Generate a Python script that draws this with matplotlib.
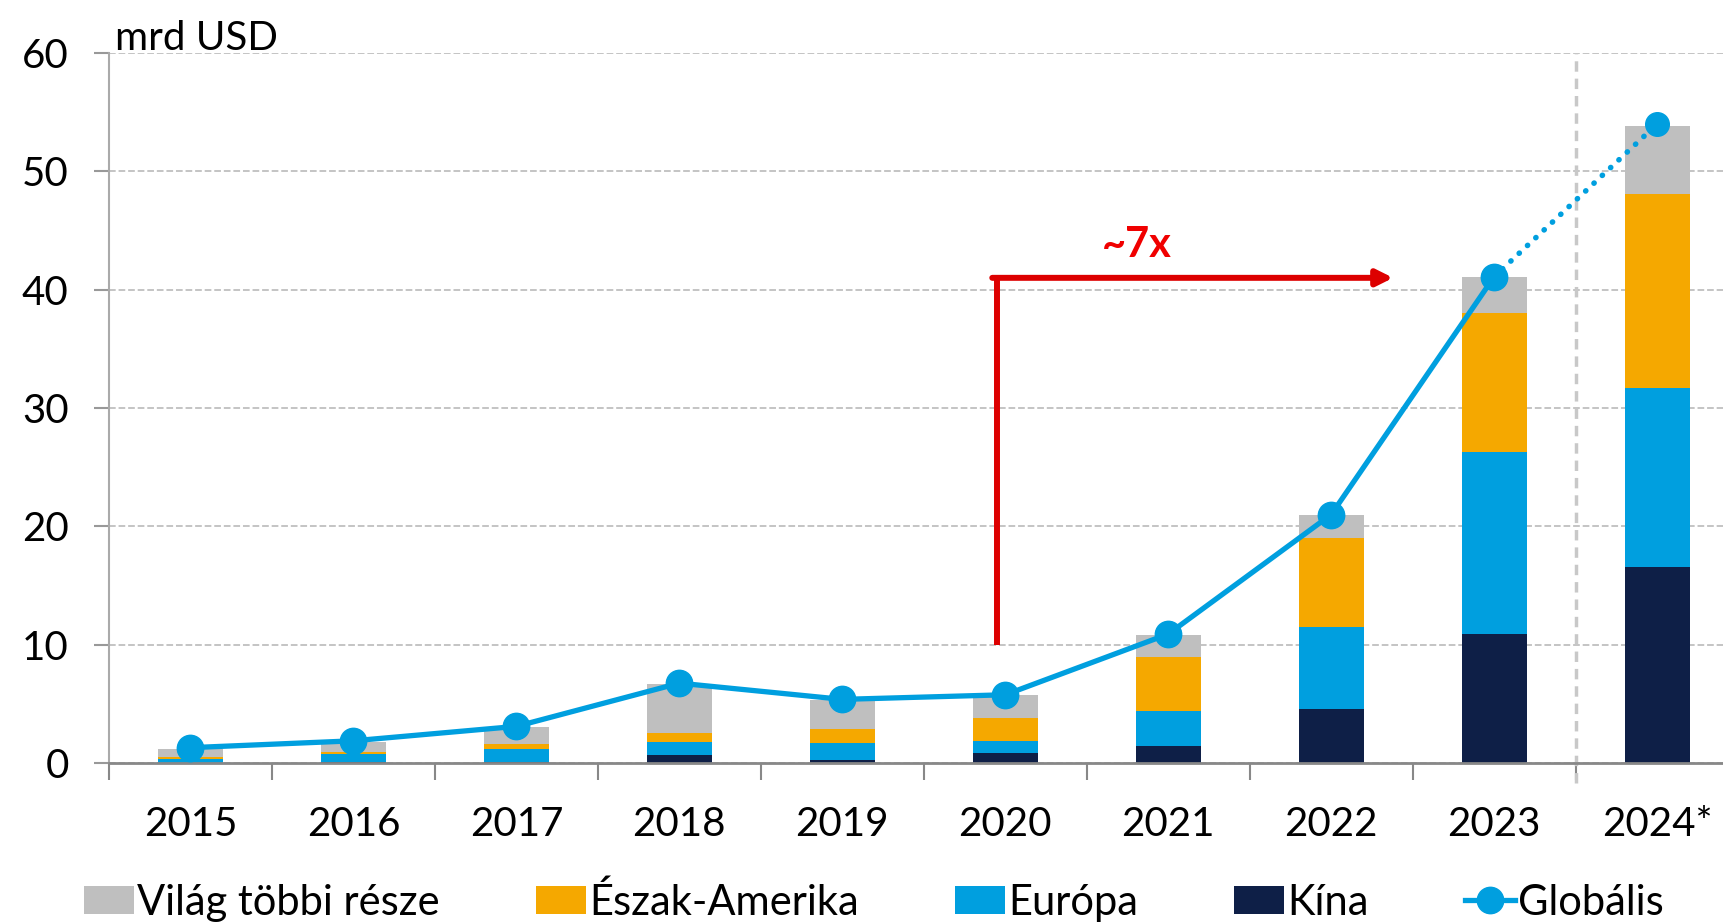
import matplotlib.pyplot as plt
import numpy as np

plt.rcParams['font.family'] = ['Lato', 'DejaVu Sans']

# adatok (mrd USD)
years = ['2015', '2016', '2017', '2018', '2019', '2020', '2021', '2022', '2023', '2024*']
kina = [0.0, 0.05, 0.1, 0.7, 0.25, 0.87, 1.4, 4.55, 10.9, 16.6]
europa = [0.34, 0.71, 1.08, 1.05, 1.41, 0.99, 3.0, 6.95, 15.4, 15.1]
eszak_amerika = [0.14, 0.2, 0.45, 0.76, 1.19, 1.97, 4.56, 7.5, 11.7, 16.4]
tobbi = [0.72, 0.79, 1.44, 4.19, 2.45, 1.92, 1.84, 2.0, 3.06, 5.75]
globalis = [1.3, 1.88, 3.1, 6.75, 5.38, 5.77, 10.9, 21.0, 41.1, 54.0]

c_gray = '#BFBFBF'
c_orange = '#F5A800'
c_blue = '#009FDF'
c_navy = '#0E1F47'
c_red = '#DD0000'

fig = plt.figure(figsize=(17.24, 9.23), dpi=100)
ax = fig.add_axes([0.0632, 0.1733, 0.9368, 0.7693])

x = np.arange(len(years))
w = 0.4
b1 = np.array(kina)
b2 = b1 + np.array(europa)
b3 = b2 + np.array(eszak_amerika)
ax.bar(x, kina, w, color=c_navy, zorder=2, label='Kína')
ax.bar(x, europa, w, bottom=b1, color=c_blue, zorder=2, label='Európa')
ax.bar(x, eszak_amerika, w, bottom=b2, color=c_orange, zorder=2, label='Észak-Amerika')
ax.bar(x, tobbi, w, bottom=b3, color=c_gray, zorder=2, label='Világ többi része')

# globális: tény vonal + becslés pontozva
ax.plot(x[:-1], globalis[:-1], color=c_blue, lw=3.8, marker='o', ms=19, zorder=4, label='Globális')
ax.plot(x[-2:], globalis[-2:], color=c_blue, lw=4, ls=(0, (0.05, 2.0)), dash_capstyle='round', zorder=4)
ax.plot(x[-1], globalis[-1], marker='o', ms=17, color=c_blue, zorder=5)

# ~7x nyíl
ax.plot([4.95, 4.95], [10, 41.0], color=c_red, lw=4.3, zorder=3, solid_capstyle='butt')
ax.annotate('', xy=(7.38, 41.0), xytext=(4.92, 41.0),
            arrowprops=dict(arrowstyle='-|>', color=c_red, lw=4.3, mutation_scale=24, shrinkA=0, shrinkB=0),
            zorder=3)
ax.text(5.81, 43.8, '~7x', color='#F00000', fontsize=30, fontweight='bold', ha='center', va='center')

# előrejelzés elválasztó
ax.plot([8.5, 8.5], [-1.7, 60], color='#C8C8C8', lw=2.5, ls=(0, (3, 2)), clip_on=False, zorder=1)

ax.set_xlim(-0.5, 9.41)
ax.set_ylim(0, 60)
ax.set_yticks(np.arange(0, 61, 10))
ax.yaxis.grid(True, color=c_gray, ls='--', lw=1.3)
ax.set_axisbelow(True)

ax.set_xticks(x)
ax.set_xticklabels(years)
ax.set_xticks(np.arange(-0.5, 9.5, 1), minor=True)
ax.tick_params(axis='x', which='major', length=0, pad=31, labelsize=29)
ax.tick_params(axis='x', which='minor', length=12, width=1.5, color='#888888', direction='out')
ax.tick_params(axis='y', length=11, width=1.5, color='#999999', labelsize=29, pad=18)

for s in ['top', 'right']:
    ax.spines[s].set_visible(False)
ax.spines['left'].set_color('#AAAAAA')
ax.spines['left'].set_linewidth(1.5)
ax.spines['bottom'].set_color('#888888')
ax.spines['bottom'].set_linewidth(2)

ax.text(0.004, 0.995, 'mrd USD', transform=ax.transAxes, fontsize=29, va='bottom', ha='left')

h, l = ax.get_legend_handles_labels()
order = ['Világ többi része', 'Észak-Amerika', 'Európa', 'Kína', 'Globális']
hs = [h[l.index(n)] for n in order]
fig.legend(hs, order, loc='center left', bbox_to_anchor=(0.027, 0.023), ncol=5, frameon=False,
           fontsize=30, handlelength=1.2, handleheight=0.65, handletextpad=0.08, columnspacing=2.3)

fig.savefig('out.png', dpi=100)
